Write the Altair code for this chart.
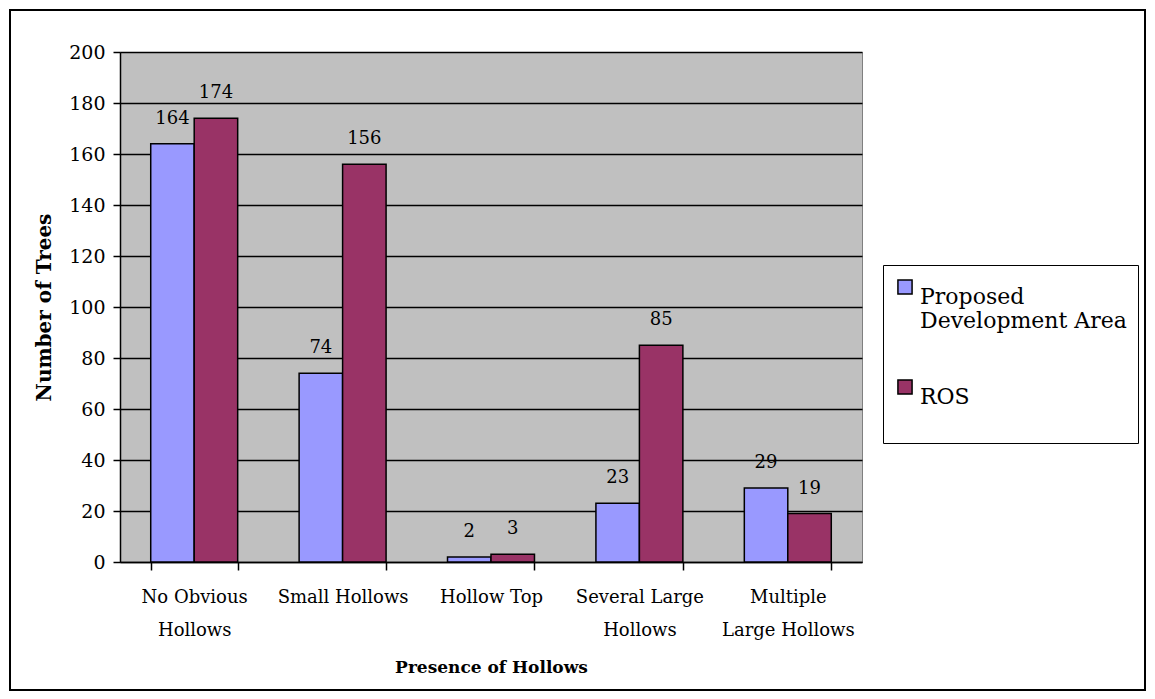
import altair as alt
import pandas as pd

categories = ["No Obvious|Hollows", "Small Hollows", "Hollow Top", "Several Large|Hollows", "Multiple|Large Hollows"]
series = ["Proposed Development Area", "ROS"]
proposed = [164, 74, 2, 23, 29]
ros = [174, 156, 3, 85, 19]
y_ticks = [0, 20, 40, 60, 80, 100, 120, 140, 160, 180, 200]
colors = ["#9999FF", "#993366"]

rows = []
for c, p, r in zip(categories, proposed, ros):
    rows.append({"cat": c, "series": series[0], "value": p})
    rows.append({"cat": c, "series": series[1], "value": r})
df = pd.DataFrame(rows)

FONT = "DejaVu Serif"

x_enc = alt.X("cat:N", sort=categories,
              scale=alt.Scale(paddingInner=0.414, paddingOuter=0.207),
              axis=alt.Axis(title="Presence of Hollows", labelAngle=0,
                            labelExpr="split(datum.label, '|')",
                            tickBand="extent", tickSize=8, tickColor="black",
                            tickWidth=1.5, domainColor="black", domainWidth=1.5,
                            labelFontSize=18, labelFont=FONT, labelColor="black",
                            labelPadding=18, labelLineHeight=33,
                            titleFont=FONT, titleFontSize=17, titleFontWeight="bold",
                            titleColor="black", titlePadding=20, grid=False))
y_enc = alt.Y("value:Q", scale=alt.Scale(domain=[0, 200], nice=False),
              axis=alt.Axis(title="Number of Trees", values=y_ticks,
                            grid=True, gridColor="black", gridWidth=1.5, gridOpacity=1,
                            tickSize=7, tickColor="black", tickWidth=1.5,
                            domainColor="black", domainWidth=1.5,
                            labelFontSize=19, labelFont=FONT, labelColor="black",
                            labelPadding=8,
                            titleFont=FONT, titleFontSize=20, titleFontWeight="bold",
                            titleColor="black", titlePadding=14))

color_enc = alt.Color("series:N", sort=series,
                      scale=alt.Scale(domain=series, range=colors),
                      legend=alt.Legend(title=None, orient="none", legendX=763, legendY=213,
                                        symbolType="square", symbolSize=200,
                                        symbolStrokeColor="black", symbolStrokeWidth=1.5,
                                        labelFont=FONT, labelFontSize=22, labelColor="black",
                                        labelLimit=400, labelOffset=4,
                                        labelExpr="datum.label == 'Proposed Development Area' ? ['Proposed', 'Development Area'] : [datum.label, '']",
                                        strokeColor="black", fillColor="white",
                                        padding=11, rowPadding=44, labelBaseline="top",
                                        symbolOffset=0))

border = alt.Chart(pd.DataFrame({"a": [1]})).mark_rect(
    fill=None, stroke="black", strokeWidth=2
).encode(x=alt.value(-110), x2=alt.value(1025), y=alt.value(-42), y2=alt.value(638))

bars = alt.Chart(df).mark_bar(stroke="black", strokeWidth=1.5).encode(
    x=x_enc, y=y_enc, color=color_enc,
    xOffset=alt.XOffset("series:N", sort=series)
)

labels = alt.Chart(df).mark_text(
    baseline="alphabetic", dy=-20, fontSize=18, font=FONT, color="black"
).encode(
    x=alt.X("cat:N", sort=categories),
    y=alt.Y("value:Q"),
    xOffset=alt.XOffset("series:N", sort=series),
    text=alt.Text("value:Q")
)

chart = alt.layer(border, bars, labels).properties(
    width=742, height=510,
    autosize=alt.AutoSizeParams(type="none"),
    padding={"left": 120, "top": 52, "right": 293, "bottom": 137},
    background="white"
).configure_view(fill="#C0C0C0", stroke="#808080", strokeWidth=1)

chart.save("out.html", embed_options={"renderer": "svg", "actions": False})
